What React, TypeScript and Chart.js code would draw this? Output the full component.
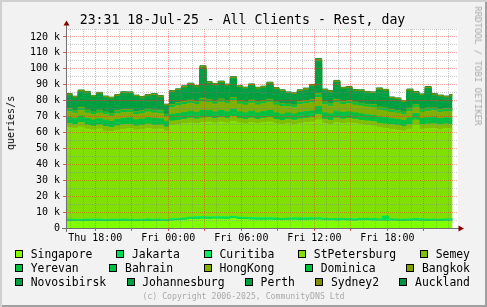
import React, { useEffect, useRef } from 'react';
import { Chart, registerables } from 'chart.js';

Chart.register(...registerables);

// ---- data (values in thousands of queries/s, one value per 30-minute slot) ----
const slotStartHour = 15.6; // Thu 15:36, hours since Thu 00:00
const slotHours = 0.5;
const dataEndHour = 47.35;

const seriesNames = [
  'Singapore', 'Jakarta', 'Curitiba', 'StPetersburg', 'Semey',
  'Yerevan', 'Bahrain', 'HongKong', 'Dominica', 'Bangkok',
  'Novosibirsk', 'Johannesburg', 'Perth', 'Sydney2', 'Auckland',
];
const seriesColors = [
  '#80ff00', '#00e050', '#00f060', '#80e000', '#80c000',
  '#00c040', '#00c040', '#80b000', '#00c040', '#80a000',
  '#00a040', '#00a040', '#00a040', '#809000', '#009040',
];

const singapore = [
  4.0, 4.1, 3.9, 4.0, 4.1, 4.0, 3.9, 4.0, 4.0, 4.1,
  4.0, 3.9, 4.0, 4.1, 4.0, 4.0, 3.9, 4.3, 4.5, 4.8,
  5.3, 5.4, 5.5, 5.4, 5.6, 5.5, 5.4, 5.8, 5.3, 5.2,
  5.0, 4.9, 4.8, 4.9, 4.8, 4.7, 4.8, 4.9, 4.7, 4.8,
  4.9, 5.0, 4.6, 4.5, 4.4, 4.5, 4.4, 4.3, 4.5, 4.6,
  4.4, 4.3, 4.2, 4.3, 4.2, 4.1, 4.2, 4.3, 4.2, 4.1,
  4.2, 4.1, 4.2, 4.2,
];
const jakarta = [
  1.2, 1.1, 1.2, 1.3, 1.2, 1.2, 1.1, 1.2, 1.2, 1.3,
  1.2, 1.2, 1.1, 1.2, 1.2, 1.3, 1.2, 1.2, 1.1, 1.2,
  1.2, 1.3, 1.2, 1.2, 1.1, 1.2, 1.3, 1.2, 1.2, 1.1,
  1.2, 1.2, 1.3, 1.2, 1.2, 1.1, 1.2, 1.2, 1.3, 1.2,
  1.2, 1.1, 1.2, 1.2, 1.3, 1.2, 1.2, 1.1, 1.2, 1.2,
  1.3, 1.2, 3.0, 1.2, 1.1, 1.2, 1.2, 1.3, 1.2, 1.2,
  1.1, 1.2, 1.2, 1.3,
];
const curitiba = [
  0.3, 0.3, 0.2, 0.3, 0.3, 0.4, 0.3, 0.3, 0.3, 0.2,
  0.3, 0.3, 0.3, 0.4, 0.3, 0.3, 0.3, 0.3, 0.2, 0.3,
  0.3, 0.3, 0.4, 0.3, 0.3, 0.3, 0.2, 0.3, 0.3, 0.3,
  0.4, 0.3, 0.3, 0.3, 0.3, 0.2, 0.3, 0.3, 0.3, 0.4,
  0.3, 0.3, 0.3, 0.2, 0.3, 0.3, 0.3, 0.4, 0.3, 0.3,
  0.3, 0.3, 0.3, 0.2, 0.3, 0.3, 0.3, 0.4, 0.3, 0.3,
  0.3, 0.2, 0.3, 0.3,
];
const stPetersburg = [
  57.5, 56.9, 58.1, 56.5, 55.9, 56.5, 55.6, 55.0, 56.0, 56.4,
  57.0, 56.1, 56.5, 56.9, 56.5, 56.5, 55.6, 58.7, 59.0, 59.2,
  59.2, 58.6, 59.0, 59.6, 58.9, 59.5, 59.1, 59.7, 59.2, 58.8,
  59.5, 59.1, 59.7, 60.1, 59.2, 58.8, 59.2, 58.6, 59.3, 59.7,
  60.1, 61.5, 59.4, 59.0, 60.1, 59.5, 60.1, 59.7, 59.0, 58.4,
  58.1, 57.2, 55.0, 56.2, 55.8, 55.4, 56.3, 58.7, 56.3, 56.9,
  56.8, 56.4, 56.8, 56.3,
];
const semey = [
  2.6, 2.5, 2.7, 2.6, 2.4, 2.6, 2.7, 2.5, 2.6, 2.8,
  2.6, 2.5, 2.6, 2.7, 2.6, 2.5, 2.4, 2.7, 2.8, 2.7,
  2.9, 2.8, 3.0, 2.8, 2.7, 2.9, 2.8, 3.0, 2.7, 2.8,
  2.9, 2.7, 2.8, 2.9, 2.7, 2.6, 2.8, 2.7, 2.9, 2.8,
  2.7, 3.2, 2.8, 2.7, 2.9, 2.8, 2.7, 2.8, 2.6, 2.7,
  2.6, 2.7, 2.8, 2.9, 3.0, 2.8, 2.9, 3.1, 2.9, 2.8,
  3.0, 2.9, 2.8, 2.9,
];
const yerevan = [
  2.4, 2.3, 2.5, 2.4, 2.3, 2.4, 2.5, 2.3, 2.4, 2.4,
  2.5, 2.4, 2.3, 2.4, 2.5, 2.4, 2.2, 2.5, 2.6, 2.5,
  2.6, 2.5, 2.8, 2.6, 2.5, 2.6, 2.5, 2.7, 2.5, 2.4,
  2.5, 2.4, 2.5, 2.6, 2.4, 2.4, 2.3, 2.3, 2.4, 2.5,
  2.5, 3.0, 2.4, 2.4, 2.6, 2.5, 2.5, 2.4, 2.4, 2.3,
  2.4, 2.5, 2.5, 2.3, 2.3, 2.2, 2.5, 2.4, 2.3, 2.4,
  2.5, 2.4, 2.3, 2.4,
];
const bahrain = [
  1.6, 1.5, 1.7, 1.6, 1.6, 1.5, 1.6, 1.6, 1.7, 1.6,
  1.6, 1.5, 1.6, 1.6, 1.7, 1.6, 1.4, 1.7, 1.7, 1.8,
  1.8, 1.7, 2.0, 1.8, 1.7, 1.8, 1.7, 1.9, 1.7, 1.7,
  1.8, 1.7, 1.7, 1.8, 1.7, 1.6, 1.6, 1.6, 1.7, 1.7,
  1.8, 2.2, 1.7, 1.6, 1.8, 1.7, 1.7, 1.6, 1.6, 1.6,
  1.6, 1.7, 1.7, 1.6, 1.5, 1.5, 1.7, 1.6, 1.6, 1.6,
  1.7, 1.6, 1.6, 1.6,
];
const hongKong = [
  3.5, 3.4, 3.6, 3.5, 3.4, 3.6, 3.5, 3.3, 3.5, 3.6,
  3.5, 3.4, 3.5, 3.6, 3.5, 3.4, 2.8, 4.2, 4.9, 5.0,
  5.1, 5.0, 5.3, 5.1, 5.0, 5.2, 5.0, 5.3, 5.0, 4.9,
  5.1, 5.0, 4.9, 5.2, 5.0, 4.9, 4.0, 4.0, 4.9, 5.0,
  5.1, 5.6, 5.0, 4.9, 5.2, 5.0, 5.1, 4.9, 5.0, 4.9,
  5.0, 4.1, 4.0, 3.9, 4.0, 3.8, 4.2, 4.0, 4.0, 4.1,
  4.0, 3.9, 4.0, 4.0,
];
const dominica = [
  1.3, 1.2, 1.3, 1.4, 1.3, 1.3, 1.2, 1.3, 1.3, 1.4,
  1.3, 1.3, 1.2, 1.3, 1.3, 1.4, 1.2, 1.3, 1.4, 1.3,
  1.4, 1.3, 1.6, 1.4, 1.3, 1.4, 1.3, 1.5, 1.3, 1.3,
  1.4, 1.3, 1.3, 1.4, 1.3, 1.3, 1.2, 1.2, 1.3, 1.3,
  1.4, 1.8, 1.3, 1.3, 1.5, 1.3, 1.4, 1.3, 1.3, 1.2,
  1.3, 1.4, 1.4, 1.2, 1.2, 1.1, 1.4, 1.3, 1.3, 1.4,
  1.3, 1.3, 1.2, 1.3,
];
const bangkok = [
  0.5, 0.5, 0.6, 0.5, 0.4, 0.5, 0.5, 0.5, 0.6, 0.5,
  0.5, 0.4, 0.5, 0.5, 0.5, 0.6, 0.4, 0.5, 0.5, 0.6,
  0.5, 0.5, 0.7, 0.5, 0.5, 0.6, 0.5, 0.6, 0.5, 0.5,
  0.5, 0.6, 0.5, 0.5, 0.5, 0.4, 0.5, 0.5, 0.5, 0.6,
  0.5, 0.8, 0.5, 0.5, 0.6, 0.5, 0.5, 0.5, 0.4, 0.5,
  0.5, 0.6, 0.5, 0.5, 0.4, 0.5, 0.6, 0.5, 0.5, 0.6,
  0.5, 0.5, 0.5, 0.5,
];
const novosibirsk = [
  5.4, 4.9, 6.4, 7.4, 6.4, 6.9, 5.9, 5.9, 5.9, 6.9,
  6.9, 6.4, 4.9, 4.9, 5.9, 4.9, 2.6, 4.7, 4.4, 5.4,
  6.4, 5.9, 15.4, 6.9, 6.9, 6.9, 6.4, 8.4, 5.4, 5.4,
  5.9, 4.9, 4.9, 6.4, 4.9, 4.9, 3.4, 3.4, 3.4, 3.4,
  5.4, 16.4, 3.9, 3.9, 7.4, 4.9, 4.9, 3.9, 4.4, 3.9,
  3.9, 7.4, 7.4, 3.9, 3.9, 2.9, 7.4, 3.9, 5.4, 8.9,
  4.9, 4.9, 3.9, 4.9,
];
const johannesburg = [
  1.8, 1.7, 1.9, 1.8, 1.8, 1.9, 1.7, 1.8, 1.8, 1.9,
  1.8, 1.8, 1.7, 1.8, 1.9, 1.8, 1.6, 1.8, 1.9, 1.8,
  1.9, 1.8, 2.1, 1.9, 1.8, 1.9, 1.8, 2.0, 1.8, 1.8,
  1.9, 1.8, 1.8, 1.9, 1.8, 1.7, 1.8, 1.8, 1.7, 1.8,
  1.9, 2.3, 1.8, 1.8, 1.9, 1.8, 1.8, 1.7, 1.8, 1.8,
  1.8, 1.9, 1.9, 1.7, 1.8, 1.7, 1.9, 1.8, 1.8, 1.9,
  1.8, 1.8, 1.7, 1.8,
];
const perth = [
  1.3, 1.3, 1.4, 1.3, 1.2, 1.3, 1.3, 1.4, 1.3, 1.3,
  1.2, 1.3, 1.3, 1.4, 1.3, 1.3, 1.2, 1.3, 1.3, 1.4,
  1.3, 1.3, 1.5, 1.3, 1.4, 1.3, 1.3, 1.4, 1.3, 1.2,
  1.3, 1.3, 1.4, 1.3, 1.3, 1.2, 1.3, 1.3, 1.3, 1.4,
  1.3, 1.6, 1.3, 1.3, 1.4, 1.3, 1.2, 1.3, 1.3, 1.3,
  1.2, 1.4, 1.3, 1.3, 1.2, 1.3, 1.4, 1.3, 1.3, 1.4,
  1.3, 1.2, 1.3, 1.3,
];
const sydney2 = [
  0.8, 0.8, 0.9, 0.8, 0.7, 0.8, 0.8, 0.8, 0.9, 0.8,
  0.8, 0.7, 0.8, 0.8, 0.8, 0.9, 0.7, 0.8, 0.8, 0.9,
  0.8, 0.8, 1.0, 0.8, 0.8, 0.9, 0.8, 0.9, 0.8, 0.8,
  0.8, 0.9, 0.8, 0.8, 0.8, 0.7, 0.8, 0.8, 0.8, 0.9,
  0.8, 1.1, 0.8, 0.8, 0.9, 0.8, 0.8, 0.8, 0.7, 0.8,
  0.8, 0.9, 0.8, 0.8, 0.7, 0.8, 0.9, 0.8, 0.8, 0.9,
  0.8, 0.8, 0.8, 0.8,
];
const auckland = [
  0.3, 0.3, 0.3, 0.4, 0.3, 0.3, 0.3, 0.3, 0.3, 0.4,
  0.3, 0.3, 0.3, 0.3, 0.4, 0.3, 0.3, 0.3, 0.3, 0.4,
  0.3, 0.3, 0.4, 0.3, 0.3, 0.3, 0.3, 0.4, 0.3, 0.3,
  0.3, 0.3, 0.4, 0.3, 0.3, 0.3, 0.3, 0.3, 0.3, 0.4,
  0.3, 0.5, 0.3, 0.3, 0.4, 0.3, 0.3, 0.3, 0.3, 0.3,
  0.3, 0.4, 0.3, 0.3, 0.3, 0.3, 0.4, 0.3, 0.3, 0.4,
  0.3, 0.3, 0.3, 0.3,
];

const seriesValues = [
  singapore, jakarta, curitiba, stPetersburg, semey,
  yerevan, bahrain, hongKong, dominica, bangkok,
  novosibirsk, johannesburg, perth, sydney2, auckland,
];

const xMinHour = 15.6;
const xMaxHour = 47.8;
const xTickHours = [18, 24, 30, 36, 42];
const xTickLabels = ['Thu 18:00', 'Fri 00:00', 'Fri 06:00', 'Fri 12:00', 'Fri 18:00'];
const yTickValues = [0, 10, 20, 30, 40, 50, 60, 70, 80, 90, 100, 110, 120];
const yTickLabels = ['0', '10 k', '20 k', '30 k', '40 k', '50 k', '60 k', '70 k', '80 k', '90 k', '100 k', '110 k', '120 k'];

const TITLE = '23:31 18-Jul-25 - All Clients - Rest, day';
const Y_TITLE = 'queries/s';
const SIDE_TEXT = 'RRDTOOL / TOBI OETIKER';
const COPYRIGHT = '(c) Copyright 2006-2025, CommunityDNS Ltd';

const MONO = "'DejaVu Sans Mono', monospace";
const RED_GRID = 'rgba(240,32,32,0.42)';
const GREY_GRID = 'rgba(120,120,120,0.38)';

const rrdFrame = {
  id: 'rrdFrame',
  beforeDraw(chart: any) {
    const { ctx, chartArea: a } = chart;
    ctx.save();
    ctx.fillStyle = '#ffffff';
    ctx.fillRect(a.left, a.top, a.right - a.left, a.bottom - a.top);
    ctx.restore();
  },
  afterDatasetsDraw(chart: any) {
    // RRD style: dotted grid drawn over the stacked areas
    const { ctx, chartArea: a, scales } = chart;
    const xs = scales.x;
    const ys = scales.y;
    ctx.save();
    ctx.lineWidth = 1;
    ctx.setLineDash([1, 1]);
    for (const t of xs.ticks) {
      const px = Math.round(xs.getPixelForValue(t.value) - 0.5) + 0.5;
      if (px <= a.left + 1 || px >= a.right) continue;
      ctx.strokeStyle = t.value % 3 === 0 ? RED_GRID : GREY_GRID;
      ctx.beginPath();
      ctx.moveTo(px, a.top);
      ctx.lineTo(px, a.bottom);
      ctx.stroke();
    }
    for (const t of ys.ticks) {
      const py = Math.round(ys.getPixelForValue(t.value) - 0.5) + 0.5;
      if (py >= a.bottom - 1) continue;
      ctx.strokeStyle = t.value % 10 === 0 ? RED_GRID : GREY_GRID;
      ctx.beginPath();
      ctx.moveTo(a.left, py);
      ctx.lineTo(a.right, py);
      ctx.stroke();
    }
    ctx.restore();
  },
  afterDraw(chart: any) {
    const { ctx, chartArea: a } = chart;
    const yA = Math.round(a.bottom) + 0.5;
    const xA = Math.round(a.left) + 0.5;
    ctx.save();
    ctx.strokeStyle = '#707070';
    ctx.lineWidth = 1;
    ctx.beginPath();
    ctx.moveTo(a.left - 4, yA);
    ctx.lineTo(a.right + 1, yA);
    ctx.moveTo(xA, a.bottom + 4);
    ctx.lineTo(xA, a.top - 4);
    ctx.stroke();
    ctx.fillStyle = '#880000';
    ctx.beginPath();
    ctx.moveTo(a.right + 0.5, yA - 3);
    ctx.lineTo(a.right + 6, yA);
    ctx.lineTo(a.right + 0.5, yA + 3);
    ctx.closePath();
    ctx.fill();
    ctx.beginPath();
    ctx.moveTo(xA - 3, a.top - 3.5);
    ctx.lineTo(xA, a.top - 8.5);
    ctx.lineTo(xA + 3, a.top - 3.5);
    ctx.closePath();
    ctx.fill();
    ctx.restore();
  },
};

export default function App() {
  const canvasRef = useRef<HTMLCanvasElement>(null);

  useEffect(() => {
    const times = singapore.map((_, i) => slotStartHour + i * slotHours);
    const datasets = seriesValues.map((vals, si) => {
      const pts = vals.map((v, i) => ({ x: times[i], y: v }));
      pts.push({ x: dataEndHour, y: vals[vals.length - 1] });
      return {
        label: seriesNames[si],
        data: pts,
        backgroundColor: seriesColors[si],
        borderColor: seriesColors[si],
        borderWidth: 1,
        pointRadius: 0,
        stepped: true,
        fill: si === 0 ? 'origin' : '-1',
      };
    });

    const chart = new Chart(canvasRef.current as HTMLCanvasElement, {
      type: 'line',
      data: { datasets } as any,
      plugins: [rrdFrame],
      options: {
        responsive: false,
        animation: false,
        events: [],
        layout: { padding: { left: 0, top: 29, right: 29, bottom: 0 } },
        plugins: {
          legend: { display: false },
          tooltip: { enabled: false },
          title: { display: false },
        },
        scales: {
          x: {
            type: 'linear',
            min: xMinHour,
            max: xMaxHour,
            afterFit: (s: any) => { s.height = 79; },
            grid: {
              drawOnChartArea: false,
              lineWidth: 1,
              tickLength: 3,
              color: 'rgba(0,0,0,0)',
              tickColor: (c: any) => (c.tick && c.tick.value % 3 === 0 ? 'rgba(220,40,40,0.8)' : 'rgba(0,0,0,0)'),
            },
            border: { z: 1, color: '#707070', width: 1 },
            ticks: {
              stepSize: 1,
              includeBounds: false,
              autoSkip: false,
              maxRotation: 0,
              minRotation: 0,
              padding: 1,
              maxTicksLimit: 1000,
              color: '#000',
              font: { family: MONO, size: 10 },
              callback: (v: any) => {
                const i = xTickHours.indexOf(v);
                return i >= 0 ? xTickLabels[i] : '';
              },
            },
          },
          y: {
            type: 'linear',
            stacked: true,
            min: 0,
            max: 125,
            afterFit: (s: any) => { s.width = 66; },
            grid: {
              drawOnChartArea: false,
              lineWidth: 1,
              tickLength: 3,
              color: 'rgba(0,0,0,0)',
              tickColor: (c: any) => (c.tick && c.tick.value % 10 === 0 ? 'rgba(220,40,40,0.8)' : 'rgba(0,0,0,0)'),
            },
            border: { z: 1, color: '#707070', width: 1 },
            ticks: {
              stepSize: 5,
              includeBounds: false,
              autoSkip: false,
              padding: 3,
              maxTicksLimit: 1000,
              color: '#000',
              font: { family: MONO, size: 10 },
              callback: (v: any) => {
                const i = yTickValues.indexOf(v);
                return i >= 0 ? yTickLabels[i] : '';
              },
            },
          },
        },
      } as any,
    });
    return () => chart.destroy();
  }, []);

  const rows = [seriesNames.slice(0, 5), seriesNames.slice(5, 10), seriesNames.slice(10, 15)];
  const rowCenters = [254.2, 268.2, 282.3];

  return (
    <div
      style={{
        position: 'absolute', left: 0, top: 0, width: 487, height: 307,
        background: '#f2f2f2', overflow: 'hidden', fontFamily: MONO, color: '#000',
        boxShadow: 'inset 2px 2px 0 #d0d0d0, inset -2px -2px 0 #a0a0a0',
      }}
    >
      <canvas ref={canvasRef} width={487} height={307}
        style={{ position: 'absolute', left: 0, top: 0, width: 487, height: 307 }} />
      <div style={{ position: 'absolute', left: -1, top: 11.5, width: 487, textAlign: 'center', fontSize: 13.2, lineHeight: '16px', whiteSpace: 'nowrap' }}>
        {TITLE}
      </div>
      <div style={{ position: 'absolute', left: 10.8, top: 122.7, transform: 'translate(-50%,-50%) rotate(-90deg)', fontSize: 10, lineHeight: '12px', whiteSpace: 'nowrap' }}>
        {Y_TITLE}
      </div>
      <div style={{ position: 'absolute', left: 477.5, top: 66, transform: 'translate(-50%,-50%) rotate(90deg)', fontSize: 9, lineHeight: '10px', whiteSpace: 'nowrap', color: '#aaaaaa' }}>
        {SIDE_TEXT}
      </div>
      {rows.map((row, ri) => (
        <div key={ri} style={{ position: 'absolute', left: 15, width: 455, top: rowCenters[ri] - 7, height: 14, display: 'flex', justifyContent: 'space-between', alignItems: 'center' }}>
          {row.map((name) => {
            const idx = seriesNames.indexOf(name);
            return (
              <div key={name} style={{ display: 'flex', alignItems: 'center', whiteSpace: 'nowrap' }}>
                <span style={{ display: 'inline-block', width: 8, height: 8, boxSizing: 'border-box', border: '1px solid #000', background: seriesColors[idx], marginRight: 7.7 }} />
                <span style={{ fontSize: 11.4, lineHeight: '14px' }}>{name}</span>
              </div>
            );
          })}
        </div>
      ))}
      <div style={{ position: 'absolute', left: 0, top: 291, width: 487, textAlign: 'center', fontSize: 8.2, lineHeight: '10px', color: '#aaaaaa', whiteSpace: 'nowrap' }}>
        {COPYRIGHT}
      </div>
    </div>
  );
}
